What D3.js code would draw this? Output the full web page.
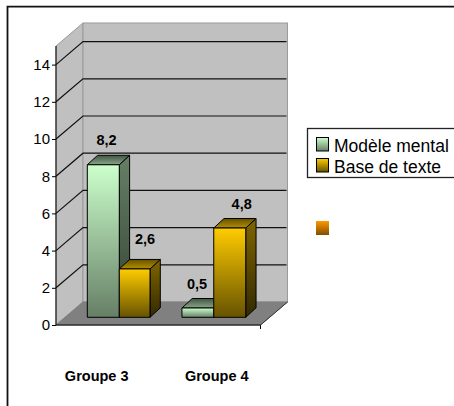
<!DOCTYPE html>
<html><head><meta charset="utf-8">
<script src="https://cdnjs.cloudflare.com/ajax/libs/d3/7.8.5/d3.min.js"></script>
<style>html,body{margin:0;padding:0;background:#fff}svg{display:block}text{font-family:"Liberation Sans",Arial,sans-serif}</style>
</head><body><div id="c"></div>
<script>
const groups = ["Groupe 3","Groupe 4"];
const seriesNames = ["Modèle mental","Base de texte"];
const modele = [8.2,0.5];
const base = [2.6,4.8];
const labelsModele = ["8,2","0,5"];
const labelsBase = ["2,6","4,8"];
const ticks = [0,2,4,6,8,10,12,14];

const W=454,H=406;
const svg=d3.select("#c").append("svg").attr("width",W).attr("height",H);
const defs=svg.append("defs");
function grad(id,c1,c2){const g=defs.append("linearGradient").attr("id",id).attr("x1",0).attr("y1",0).attr("x2",0).attr("y2",1);
 g.append("stop").attr("offset",0).attr("stop-color",c1);g.append("stop").attr("offset",1).attr("stop-color",c2);}
grad("gFront","#ccffcc","#667f66");grad("gSide","#667f66","#334033");grad("gTop","#3f5540","#8aa68a");
grad("oFront","#ffcc00","#665200");grad("oSide","#806600","#332900");grad("oTop","#665200","#b38f00");
grad("sq","#ff9900","#804d00");

// frame
svg.append("path").attr("d",`M7.5,${H}V6.7H${W}`).attr("fill","none").attr("stroke","#111").attr("stroke-width",1.8);

const y=d3.scaleLinear().domain([0,15]).range([325,46]);
const x0=56,x1=260.5,dx=27,dy=-23;
const x=d3.scaleBand().domain(groups).range([x0,x1]);
const wall="#c0c0c0",edge="#9a9a9a";
// walls
svg.append("path").attr("d",`M${x0},${y(15)}L${x0+dx},${y(15)+dy}V${y(0)+dy}L${x0},${y(0)}Z`).attr("fill",wall).attr("stroke",edge);
svg.append("rect").attr("x",x0+dx).attr("y",y(15)+dy).attr("width",x1-x0).attr("height",y(0)-y(15)).attr("fill",wall).attr("stroke",edge);
// floor
svg.append("path").attr("d",`M${x0},${y(0)}L${x0+dx},${y(0)+dy}H${x1+dx}L${x1},${y(0)}Z`).attr("fill","#808080").attr("stroke","#808080");
// gridlines
svg.selectAll(".g").data(ticks.filter(d=>d>0)).join("path").attr("fill","none").attr("stroke","#111").attr("stroke-width",1.2)
 .attr("d",d=>`M${x0},${y(d)}L${x0+dx},${y(d)+dy}H${x1+dx-1}`);
// axes
const ax=svg.append("g").attr("transform",`translate(${x0},0)`).call(d3.axisLeft(y).tickValues(ticks).tickSize(4).tickPadding(2));
ax.select(".domain").attr("stroke","#000").attr("d",`M0,${y(15)}V${y(0)}`);
ax.selectAll("text").attr("font-size",15).attr("fill","#000").attr("font-family","Liberation Sans");
svg.append("path").attr("d",`M${x0},${y(0)}H${x1}V${y(0)+4}`).attr("fill","none").attr("stroke","#000");
svg.append("path").attr("d",`M${x1},${y(0)}L${x1+dx},${y(0)+dy}`).attr("fill","none").attr("stroke","#333");
svg.selectAll(".cat").data(groups).join("text").attr("text-anchor","middle").attr("font-size",14.5).attr("font-weight","bold")
 .attr("x",(d,i)=>x(d)+[40.7,58.5][i]).attr("y",380.5).text(d=>d);

// bars
const yb=v=>y(v)-7.7;
const barW=32, bdx=10.3, bdy=-9.5;
const off=[[31.3,63.3],[23.7,55.5]];
const bars=[];
groups.forEach((g,i)=>{
 bars.push({g,i,s:0,v:modele[i],l:labelsModele[i]});
 bars.push({g,i,s:1,v:base[i],l:labelsBase[i]});
});
const layer=svg.append("g");
bars.forEach(b=>{
 const xa=x(b.g)+off[b.i][b.s], xb=xa+(b.s===1&&b.i===0?30.7:barW);
 const t=yb(b.v), bt=yb(0);
 const ns=b.s===0?"g":"o";
 const gg=layer.append("g").attr("stroke","#000").attr("stroke-width",1).attr("stroke-linejoin","round");
 gg.append("path").attr("d",`M${xb},${t}L${xb+bdx},${t+bdy}V${bt+bdy}L${xb},${bt}Z`).attr("fill",`url(#${ns}Side)`);
 gg.append("path").attr("d",`M${xa},${t}L${xa+bdx},${t+bdy}H${xb+bdx}L${xb},${t}Z`).attr("fill",`url(#${ns}Top)`);
 gg.append("rect").attr("x",xa).attr("y",t).attr("width",xb-xa).attr("height",bt-t).attr("fill",`url(#${ns}Front)`);
});
// value labels: x centre and gap above the bar top
const lblX=[106.5,145,197,241.7];
const lblGap=[-19.5,-25.3,-18.6,-19];
svg.selectAll(".lab").data(bars).join("text").attr("text-anchor","middle").attr("font-size",14.5).attr("font-weight","bold")
 .attr("x",(d,i)=>lblX[i]).attr("y",(d,i)=>yb(d.v)+lblGap[i]).text(d=>d.l);

// legend
svg.append("rect").attr("x",307.5).attr("y",128.5).attr("width",160).attr("height",49).attr("fill","#fff").attr("stroke","#222").attr("stroke-width",1.3);
const sw=["gFront","oFront"];
seriesNames.forEach((n,i)=>{
 const yy=[137.5,158.5][i];
 svg.append("rect").attr("x",316.5).attr("y",yy).attr("width",12).attr("height",13.5).attr("fill",`url(#${sw[i]})`).attr("stroke","#000");
 svg.append("text").attr("x",334).attr("y",yy+14.2).attr("font-size",17.5).attr("fill","#000").text(n);
});
svg.append("rect").attr("x",316).attr("y",221).attr("width",13).attr("height",14).attr("fill","url(#sq)");
</script></body></html>
